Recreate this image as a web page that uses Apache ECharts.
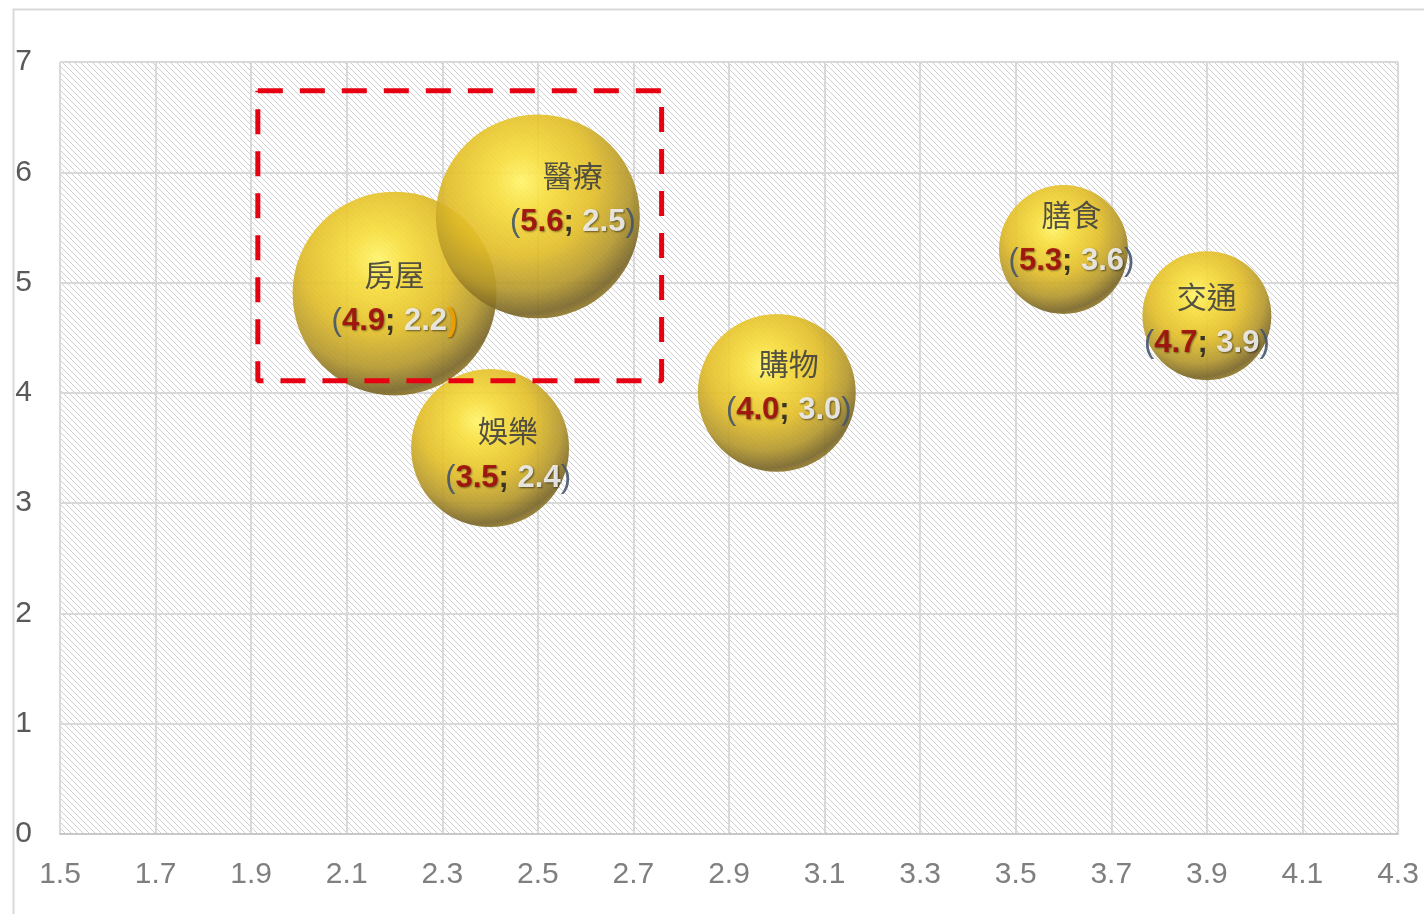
<!DOCTYPE html>
<html>
<head>
<meta charset="utf-8">
<script src="https://cdn.jsdelivr.net/npm/echarts@6/dist/echarts.min.js"></script>
<style>
html,body{margin:0;padding:0;background:#fff;}
#chart{width:1424px;height:914px;}
</style>
</head>
<body>
<div id="chart"></div>
<script>
// ---- data ----
var names = ['房屋', '醫療', '娛樂', '購物', '膳食', '交通'];
var xValues = [2.2, 2.5, 2.4, 3.0, 3.6, 3.9];
var yValues = [4.9, 5.6, 3.5, 4.0, 5.3, 4.7];
var bubbleValues = [5, 5, 3, 3, 2, 2];
var xTicks = ['1.5','1.7','1.9','2.1','2.3','2.5','2.7','2.9','3.1','3.3','3.5','3.7','3.9','4.1','4.3'];
var yTicks = ['0','1','2','3','4','5','6','7'];
var highlightBox = [[1.914, 6.74], [2.759, 4.11]];

// ---- styling helpers ----
var labelOffsets = {
  '房屋': [0, 6], '醫療': [35, -16], '娛樂': [18, 8],
  '購物': [12, -4], '膳食': [8, -10], '交通': [0, 6]
};

function hatchPattern() {
  var c = document.createElement('canvas');
  var s = 6;
  c.width = s; c.height = s;
  var ctx = c.getContext('2d');
  ctx.fillStyle = '#ffffff';
  ctx.fillRect(0, 0, s, s);
  ctx.strokeStyle = '#cfcfcf';
  ctx.lineWidth = 1;
  for (var k = -1; k <= 1; k++) {
    ctx.beginPath();
    ctx.moveTo(k * s, 0);
    ctx.lineTo(k * s + s, s);
    ctx.stroke();
  }
  return { image: c, repeat: 'repeat' };
}

var sphere = {
  type: 'radial', x: 0.42, y: 0.33, r: 0.72,
  colorStops: [
    { offset: 0, color: '#fff466' },
    { offset: 0.2, color: '#f7dc38' },
    { offset: 0.5, color: '#e2bd26' },
    { offset: 0.74, color: '#b3962a' },
    { offset: 0.9, color: '#776324' },
    { offset: 1, color: '#a88a28' }
  ]
};

var points = names.map(function (n, i) {
  var closeStyle = n === '房屋' ? 'po' : 'p';
  return {
    name: n,
    value: [xValues[i], yValues[i], bubbleValues[i]],
    label: {
      offset: labelOffsets[n],
      formatter: '{n|' + n + '}\n{p|(}{r|' + yValues[i].toFixed(1) + '}{s|; }{w|' +
        xValues[i].toFixed(1) + '}{' + closeStyle + '|)}'
    }
  };
});

var shadow = { textShadowColor: 'rgba(0,0,0,0.5)', textShadowBlur: 2, textShadowOffsetX: 1, textShadowOffsetY: 1 };
function withShadow(o) { return Object.assign({}, shadow, o); }

var chart = echarts.init(document.getElementById('chart'), null, { renderer: 'canvas' });
chart.setOption({
  animation: false,
  backgroundColor: '#ffffff',
  graphic: [{
    type: 'rect', left: 11, top: 7, z: -10,
    shape: { width: 1440, height: 930 },
    style: { fill: 'none', stroke: '#d9d9d9', lineWidth: 2 }
  }],
  grid: {
    left: 60, right: 26, top: 62, bottom: 80,
    show: true, borderWidth: 0,
    backgroundColor: hatchPattern()
  },
  xAxis: {
    type: 'value', min: 1.5, max: 4.3, interval: 0.2,
    axisLine: { show: true, lineStyle: { color: '#c8c8c8', width: 2 } },
    axisTick: { show: false },
    splitLine: { show: true, lineStyle: { color: '#d9d9d9', width: 2 } },
    axisLabel: {
      margin: 26, fontSize: 30, color: '#7f7f7f', fontFamily: 'Liberation Sans, Arial',
      formatter: function (v) { return xTicks[Math.round((v - 1.5) / 0.2)]; }
    }
  },
  yAxis: {
    type: 'value', min: 0, max: 7, interval: 1,
    axisLine: { show: false },
    axisTick: { show: false },
    splitLine: { show: true, lineStyle: { color: '#d9d9d9', width: 2 } },
    axisLabel: {
      margin: 28, fontSize: 30, color: '#595959', fontFamily: 'Liberation Sans, Arial',
      padding: [5, 0, 0, 0],
      formatter: function (v) { return yTicks[Math.round(v)]; }
    }
  },
  series: [{
    type: 'scatter',
    z: 3,
    data: points,
    symbol: 'circle',
    symbolSize: function (val) { return 91.2 * Math.sqrt(val[2]); },
    itemStyle: { color: sphere, opacity: 0.9 },
    label: {
      show: true, position: 'inside', lineHeight: 46,
      fontFamily: 'Liberation Sans, Arial',
      rich: {
        n: { fontSize: 30, color: '#404040', lineHeight: 44,
             fontFamily: 'Noto Sans CJK TC, Noto Sans CJK SC, sans-serif' },
        p: { fontSize: 31, color: '#44546a', lineHeight: 50 },
        po: withShadow({ fontSize: 31, color: '#f5a300', lineHeight: 50, fontWeight: 'bold' }),
        r: withShadow({ fontSize: 31, color: '#a00d0d', fontWeight: 'bold', lineHeight: 50 }),
        s: { fontSize: 31, color: '#262626', fontWeight: 'bold', lineHeight: 50 },
        w: withShadow({ fontSize: 31, color: '#f2f2f2', fontWeight: 'bold', lineHeight: 50,
             textShadowColor: 'rgba(0,0,0,0.6)' })
      }
    },
    emphasis: { disabled: true }
  }, {
    type: 'line',
    z: 5,
    symbol: 'none',
    silent: true,
    data: [
      [highlightBox[0][0], highlightBox[0][1]],
      [highlightBox[1][0], highlightBox[0][1]],
      [highlightBox[1][0], highlightBox[1][1]],
      [highlightBox[0][0], highlightBox[1][1]],
      [highlightBox[0][0], highlightBox[0][1]]
    ],
    lineStyle: { color: '#e60012', width: 5, type: [25, 17] }
  }]
});
</script>
</body>
</html>
